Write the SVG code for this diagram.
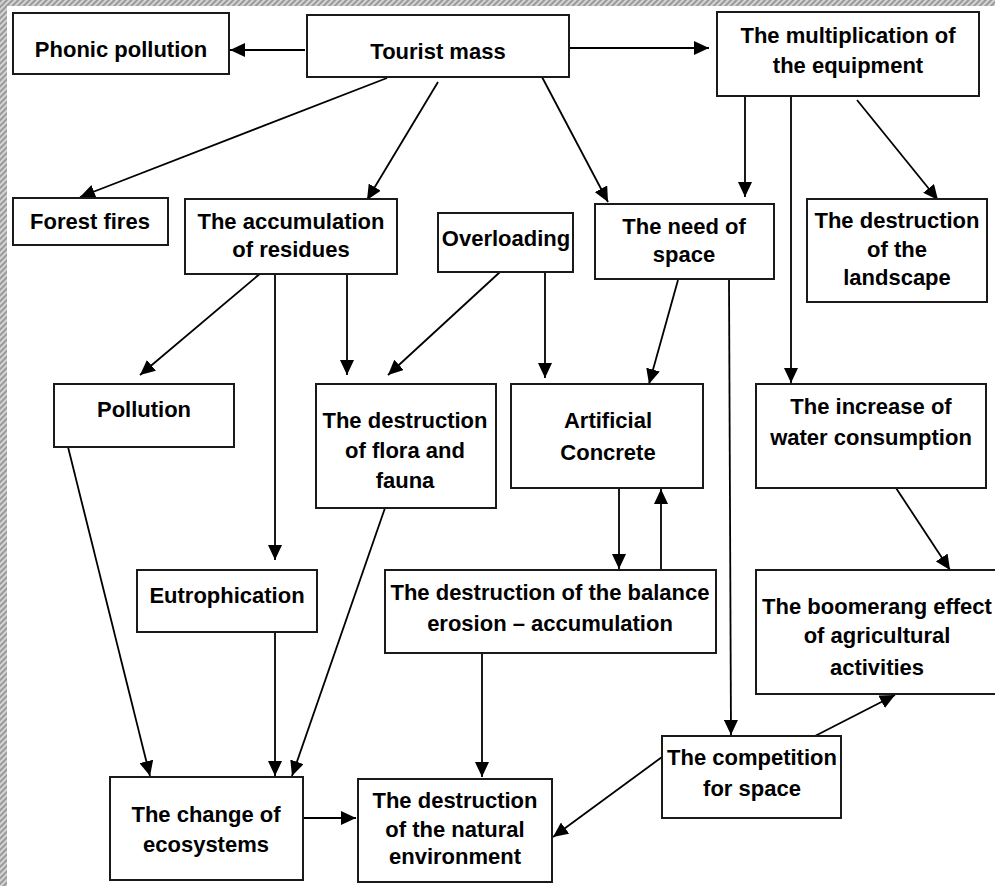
<svg xmlns="http://www.w3.org/2000/svg" width="995" height="886" viewBox="0 0 995 886">
<defs>
<pattern id="hatch" width="4" height="4" patternUnits="userSpaceOnUse" patternTransform="rotate(45)">
<rect width="4" height="4" fill="#d4d4d4"/>
<rect width="2" height="4" fill="#9a9a9a"/>
</pattern>
<marker id="ah" markerUnits="userSpaceOnUse" markerWidth="16" markerHeight="14" refX="15" refY="7" orient="auto">
<path d="M0,0 L15,7 L0,14 z" fill="#000"/>
</marker>
<style>
.box{fill:#fff;stroke:#1a1a1a;stroke-width:2}
.t{font-family:"Liberation Sans",Arial,sans-serif;font-weight:bold;font-size:22px;fill:#000;text-anchor:middle}
.c{fill:none;stroke:#000;stroke-width:1.8;marker-end:url(#ah)}
</style>
</defs>
<rect x="0" y="0" width="995" height="886" fill="#fff"/>
<rect x="0" y="0" width="995" height="6" fill="url(#hatch)"/>
<rect x="0" y="0" width="7" height="886" fill="url(#hatch)"/>

<g id="connectors">
<path class="c" d="M305,50 L230,50"/>
<path class="c" d="M569,48 L709,48"/>
<path class="c" d="M387,78 L80,197"/>
<path class="c" d="M438,82 L367,200"/>
<path class="c" d="M542,77 L608,202"/>
<path class="c" d="M745,96 L745,197"/>
<path class="c" d="M791,96 L791,383"/>
<path class="c" d="M857,100 L938,200"/>
<path class="c" d="M262,272 L140,375"/>
<path class="c" d="M275,273 L275,560"/>
<path class="c" d="M347,272 L347,375"/>
<path class="c" d="M500,272 L388,375"/>
<path class="c" d="M545,272 L545,378"/>
<path class="c" d="M678,280 L649,384"/>
<path class="c" d="M729,279 L731,735"/>
<path class="c" d="M619,488 L619,569"/>
<path class="c" d="M661,569 L661,489"/>
<path class="c" d="M896,488 L950,570"/>
<path class="c" d="M68,447 L150,776"/>
<path class="c" d="M275,632 L275,776"/>
<path class="c" d="M385,508 L292,776"/>
<path class="c" d="M303,818 L356,818"/>
<path class="c" d="M482,653 L482,777"/>
<path class="c" d="M662,757 L553,837"/>
<path class="c" d="M815,736 L895,695"/>
</g>

<g id="phonic"><rect class="box" x="13" y="13" width="216" height="61"/><text class="t" x="121" y="57">Phonic pollution</text></g>
<g id="tourist"><rect class="box" x="307" y="15" width="262" height="62"/><text class="t" x="438" y="59">Tourist mass</text></g>
<g id="multiplication"><rect class="box" x="717" y="12" width="262" height="84"/><text class="t" x="848" y="43">The multiplication of</text><text class="t" x="848" y="73">the equipment</text></g>
<g id="forest"><rect class="box" x="13" y="198" width="155" height="47"/><text class="t" x="90" y="229">Forest fires</text></g>
<g id="accumulation"><rect class="box" x="185" y="199" width="212" height="75"/><text class="t" x="291" y="229">The accumulation</text><text class="t" x="291" y="257">of residues</text></g>
<g id="overloading"><rect class="box" x="438" y="213" width="135" height="59"/><text class="t" x="506" y="246">Overloading</text></g>
<g id="need"><rect class="box" x="595" y="204" width="179" height="75"/><text class="t" x="684" y="234">The need of</text><text class="t" x="684" y="262">space</text></g>
<g id="landscape"><rect class="box" x="807" y="199" width="180" height="103"/><text class="t" x="897" y="228">The destruction</text><text class="t" x="897" y="257">of the</text><text class="t" x="897" y="285">landscape</text></g>
<g id="pollution"><rect class="box" x="54" y="384" width="180" height="63"/><text class="t" x="144" y="417">Pollution</text></g>
<g id="flora"><rect class="box" x="316" y="384" width="180" height="124"/><text class="t" x="405" y="428">The destruction</text><text class="t" x="405" y="458">of flora and</text><text class="t" x="405" y="488">fauna</text></g>
<g id="artificial"><rect class="box" x="511" y="384" width="192" height="104"/><text class="t" x="608" y="428">Artificial</text><text class="t" x="608" y="460">Concrete</text></g>
<g id="water"><rect class="box" x="756" y="384" width="230" height="104"/><text class="t" x="871" y="414">The increase of</text><text class="t" x="871" y="445">water consumption</text></g>
<g id="eutrophication"><rect class="box" x="137" y="570" width="180" height="62"/><text class="t" x="227" y="603">Eutrophication</text></g>
<g id="balance"><rect class="box" x="385" y="570" width="331" height="83"/><text class="t" x="550" y="600">The destruction of the balance</text><text class="t" x="550" y="631">erosion – accumulation</text></g>
<g id="boomerang"><rect class="box" x="756" y="570" width="245" height="124"/><text class="t" x="877" y="614">The boomerang effect</text><text class="t" x="877" y="643">of agricultural</text><text class="t" x="877" y="675">activities</text></g>
<g id="competition"><rect class="box" x="662" y="736" width="179" height="82"/><text class="t" x="752" y="765">The competition</text><text class="t" x="752" y="796">for space</text></g>
<g id="change"><rect class="box" x="110" y="777" width="193" height="103"/><text class="t" x="206" y="822">The change of</text><text class="t" x="206" y="852">ecosystems</text></g>
<g id="natural"><rect class="box" x="358" y="779" width="194" height="103"/><text class="t" x="455" y="808">The destruction</text><text class="t" x="455" y="837">of the natural</text><text class="t" x="455" y="864">environment</text></g>
</svg>
